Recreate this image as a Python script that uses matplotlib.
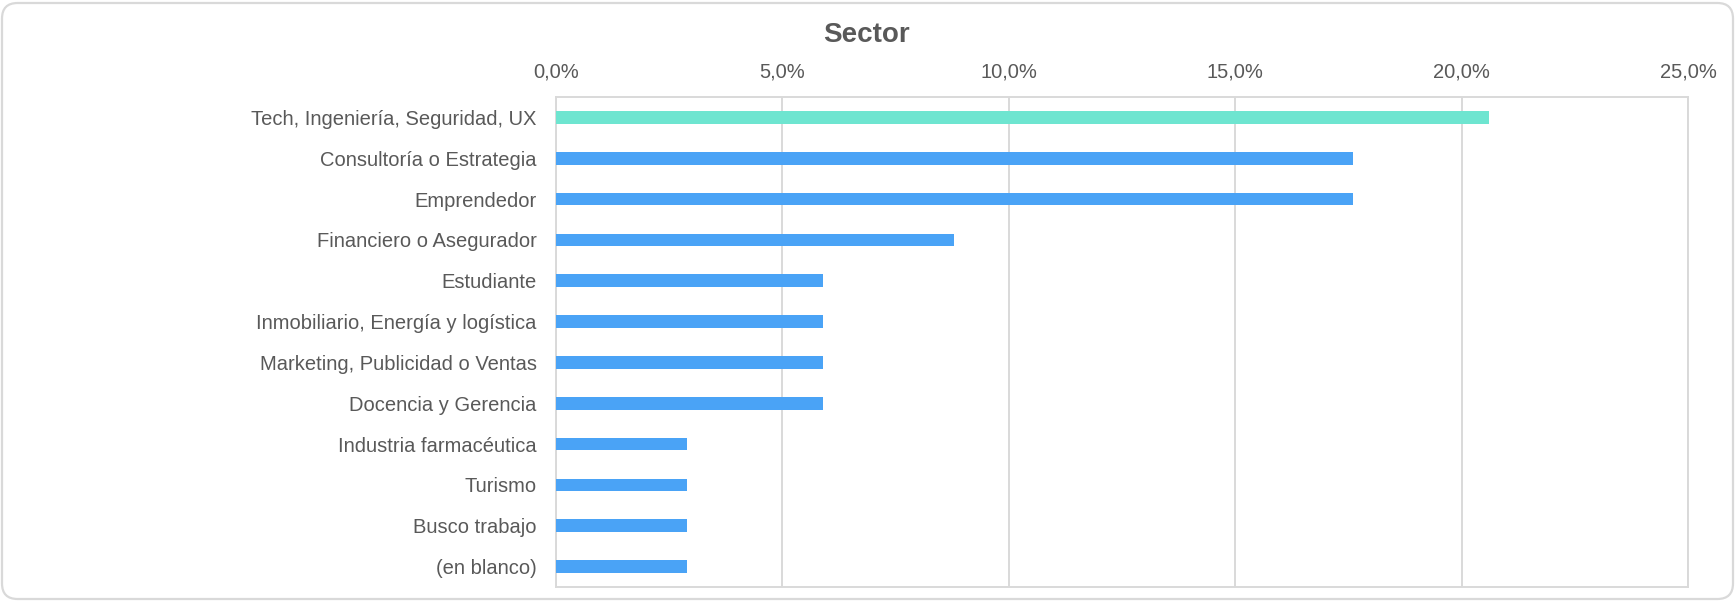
import matplotlib
matplotlib.use("Agg")
import matplotlib.pyplot as plt
from matplotlib.patches import FancyBboxPatch
from matplotlib.ticker import FuncFormatter

categories = [
    "Tech, Ingeniería, Seguridad, UX",
    "Consultoría o Estrategia",
    "Emprendedor",
    "Financiero o Asegurador",
    "Estudiante",
    "Inmobiliario, Energía y logística",
    "Marketing, Publicidad o Ventas",
    "Docencia y Gerencia",
    "Industria farmacéutica",
    "Turismo",
    "Busco trabajo",
    "(en blanco)",
]
values = [20.6, 17.6, 17.6, 8.8, 5.9, 5.9, 5.9, 5.9, 2.9, 2.9, 2.9, 2.9]
highlight = "#6EE5D0"
base = "#4AA3F6"
text_color = "#595959"
grid_color = "#D9D9D9"

plt.rcParams['font.family'] = ['Liberation Sans', 'DejaVu Sans']

W, H = 1736, 602
fig = plt.figure(figsize=(W / 100, H / 100), dpi=100)

# Rounded outer frame, kept behind the axes
frame = FancyBboxPatch((2 / W, 3 / H), 1 - 5 / W, 1 - 6 / H,
                       boxstyle="round,pad=0,rounding_size=0.009",
                       transform=fig.transFigure, facecolor="white",
                       edgecolor="#D9D9D9", linewidth=1.6,
                       mutation_aspect=W / H, zorder=-10)
fig.patches.append(frame)

# plot area: x 556..1688, y 97..587 px
ax = fig.add_axes([556 / W, 1 - 587 / H, (1688 - 556) / W, (587 - 97) / H])
ax.set_facecolor("none")

y = range(len(categories))
colors = [highlight] + [base] * (len(categories) - 1)
ax.barh(y, values, height=0.31, color=colors, zorder=3)

ax.set_xlim(0, 25)
ax.set_ylim(len(categories) - 0.5, -0.5)
ax.set_xticks([0, 5, 10, 15, 20, 25])
ax.xaxis.set_major_formatter(FuncFormatter(lambda v, p: f"{v:.1f}%".replace(".", ",")))
ax.xaxis.tick_top()
ax.set_yticks(list(y))
ax.set_yticklabels(categories)

ax.tick_params(axis="both", length=0, labelsize=14.5, labelcolor=text_color)
ax.tick_params(axis="x", pad=11)
ax.tick_params(axis="y", pad=14)

ax.grid(True, axis="x", color=grid_color, linewidth=1.4, zorder=0)
ax.set_axisbelow(True)
for s in ax.spines.values():
    s.set_color(grid_color)
    s.set_linewidth(1.4)

fig.text(0.499, 1 - 35 / H, "Sector", ha="center", va="center",
         fontsize=20, fontweight="bold", color=text_color)

fig.savefig("out.png", dpi=100)
